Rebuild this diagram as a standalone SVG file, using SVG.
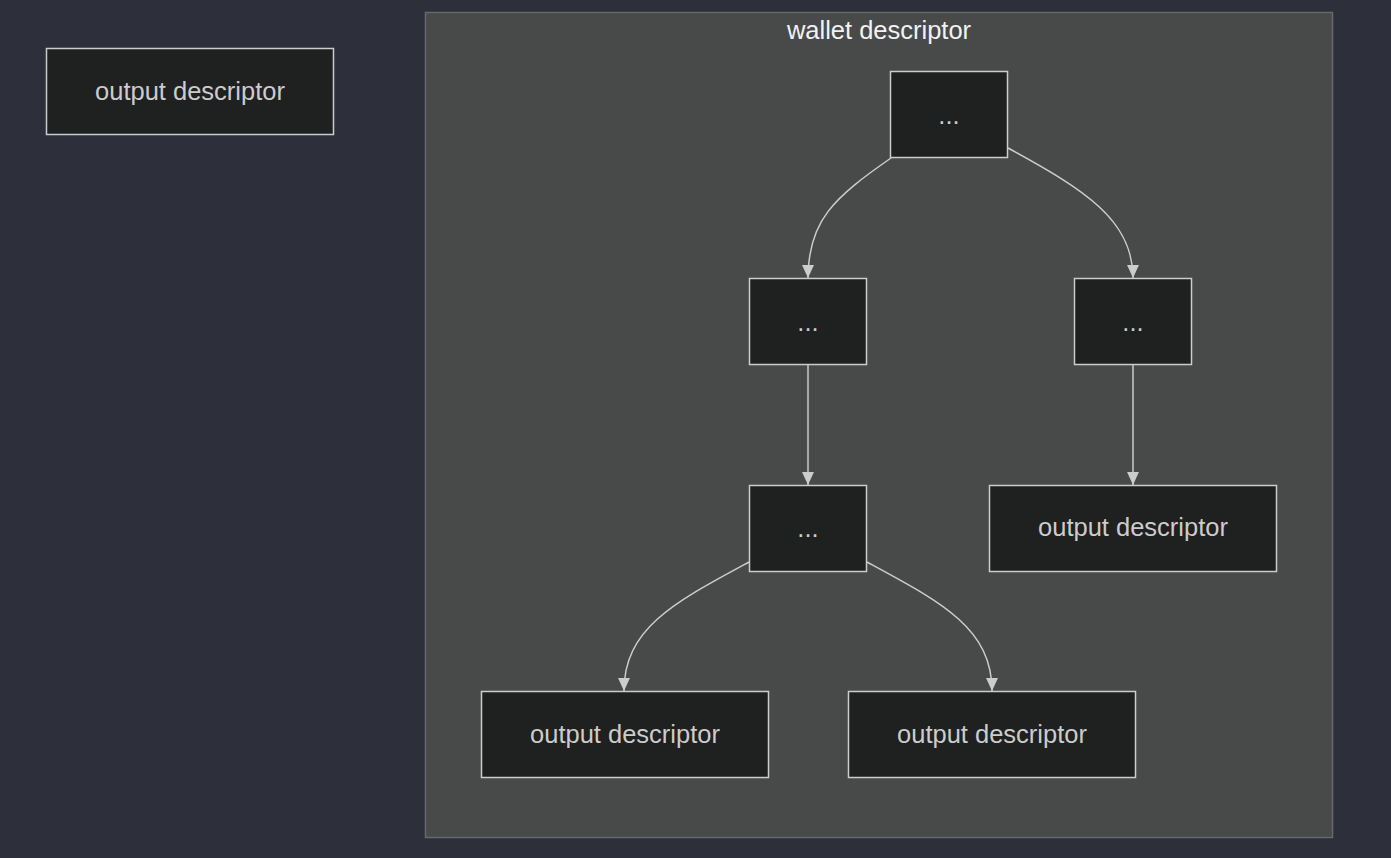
<svg xmlns="http://www.w3.org/2000/svg" width="1391" height="858" viewBox="0 0 1391 858">
<style>
.node rect{fill:#1f2020;stroke:#cccccc;stroke-width:1.5}
.node text{fill:#cccccc;font-family:"Liberation Sans",Arial,sans-serif;font-size:25.5px;text-anchor:middle;dominant-baseline:central}
.edge{fill:none;stroke:#cccccc;stroke-width:1.5}
</style>
<defs>
<marker id="arrow" markerUnits="userSpaceOnUse" viewBox="0 0 12 12" refX="12" refY="6" markerWidth="13" markerHeight="13" orient="auto">
<path d="M0,0.5 L12,6 L0,11.5 z" fill="#cccccc"/>
</marker>
</defs>
<rect width="1391" height="858" fill="#2d303b"/>
<g id="cluster-wallet">
<rect x="425.5" y="12.5" width="907" height="825" fill="#484a49" stroke="#66686a" stroke-width="1.5"/>
<text x="879" y="30" fill="#f2f2f2" font-family="Liberation Sans,Arial,sans-serif" font-size="25.5" text-anchor="middle" dominant-baseline="central">wallet descriptor</text>
</g>
<g id="edges">
<path class="edge" d="M891,158 C835,197 808,220 808,278" marker-end="url(#arrow)"/>
<path class="edge" d="M1008,148 C1085,190 1133,220 1133,278" marker-end="url(#arrow)"/>
<path class="edge" d="M808,365 L808,485" marker-end="url(#arrow)"/>
<path class="edge" d="M1133,365 L1133,485" marker-end="url(#arrow)"/>
<path class="edge" d="M749,562 C675,602 624,628 624,691" marker-end="url(#arrow)"/>
<path class="edge" d="M867,562 C941,602 992,628 992,691" marker-end="url(#arrow)"/>
</g>
<g id="node-left" class="node"><rect x="46.5" y="48.5" width="287" height="86"/><text x="190" y="91">output descriptor</text></g>
<g id="node-top" class="node"><rect x="890.5" y="71.5" width="117" height="86"/><text x="949" y="115">...</text></g>
<g id="node-midleft" class="node"><rect x="749.5" y="278.5" width="117" height="86"/><text x="808" y="322">...</text></g>
<g id="node-midright" class="node"><rect x="1074.5" y="278.5" width="117" height="86"/><text x="1133" y="322">...</text></g>
<g id="node-lower" class="node"><rect x="749.5" y="485.5" width="117" height="86"/><text x="808" y="528">...</text></g>
<g id="node-od-right" class="node"><rect x="989.5" y="485.5" width="287" height="86"/><text x="1133" y="527">output descriptor</text></g>
<g id="node-od-bl" class="node"><rect x="481.5" y="691.5" width="287" height="86"/><text x="625" y="734">output descriptor</text></g>
<g id="node-od-br" class="node"><rect x="848.5" y="691.5" width="287" height="86"/><text x="992" y="734">output descriptor</text></g>
</svg>
